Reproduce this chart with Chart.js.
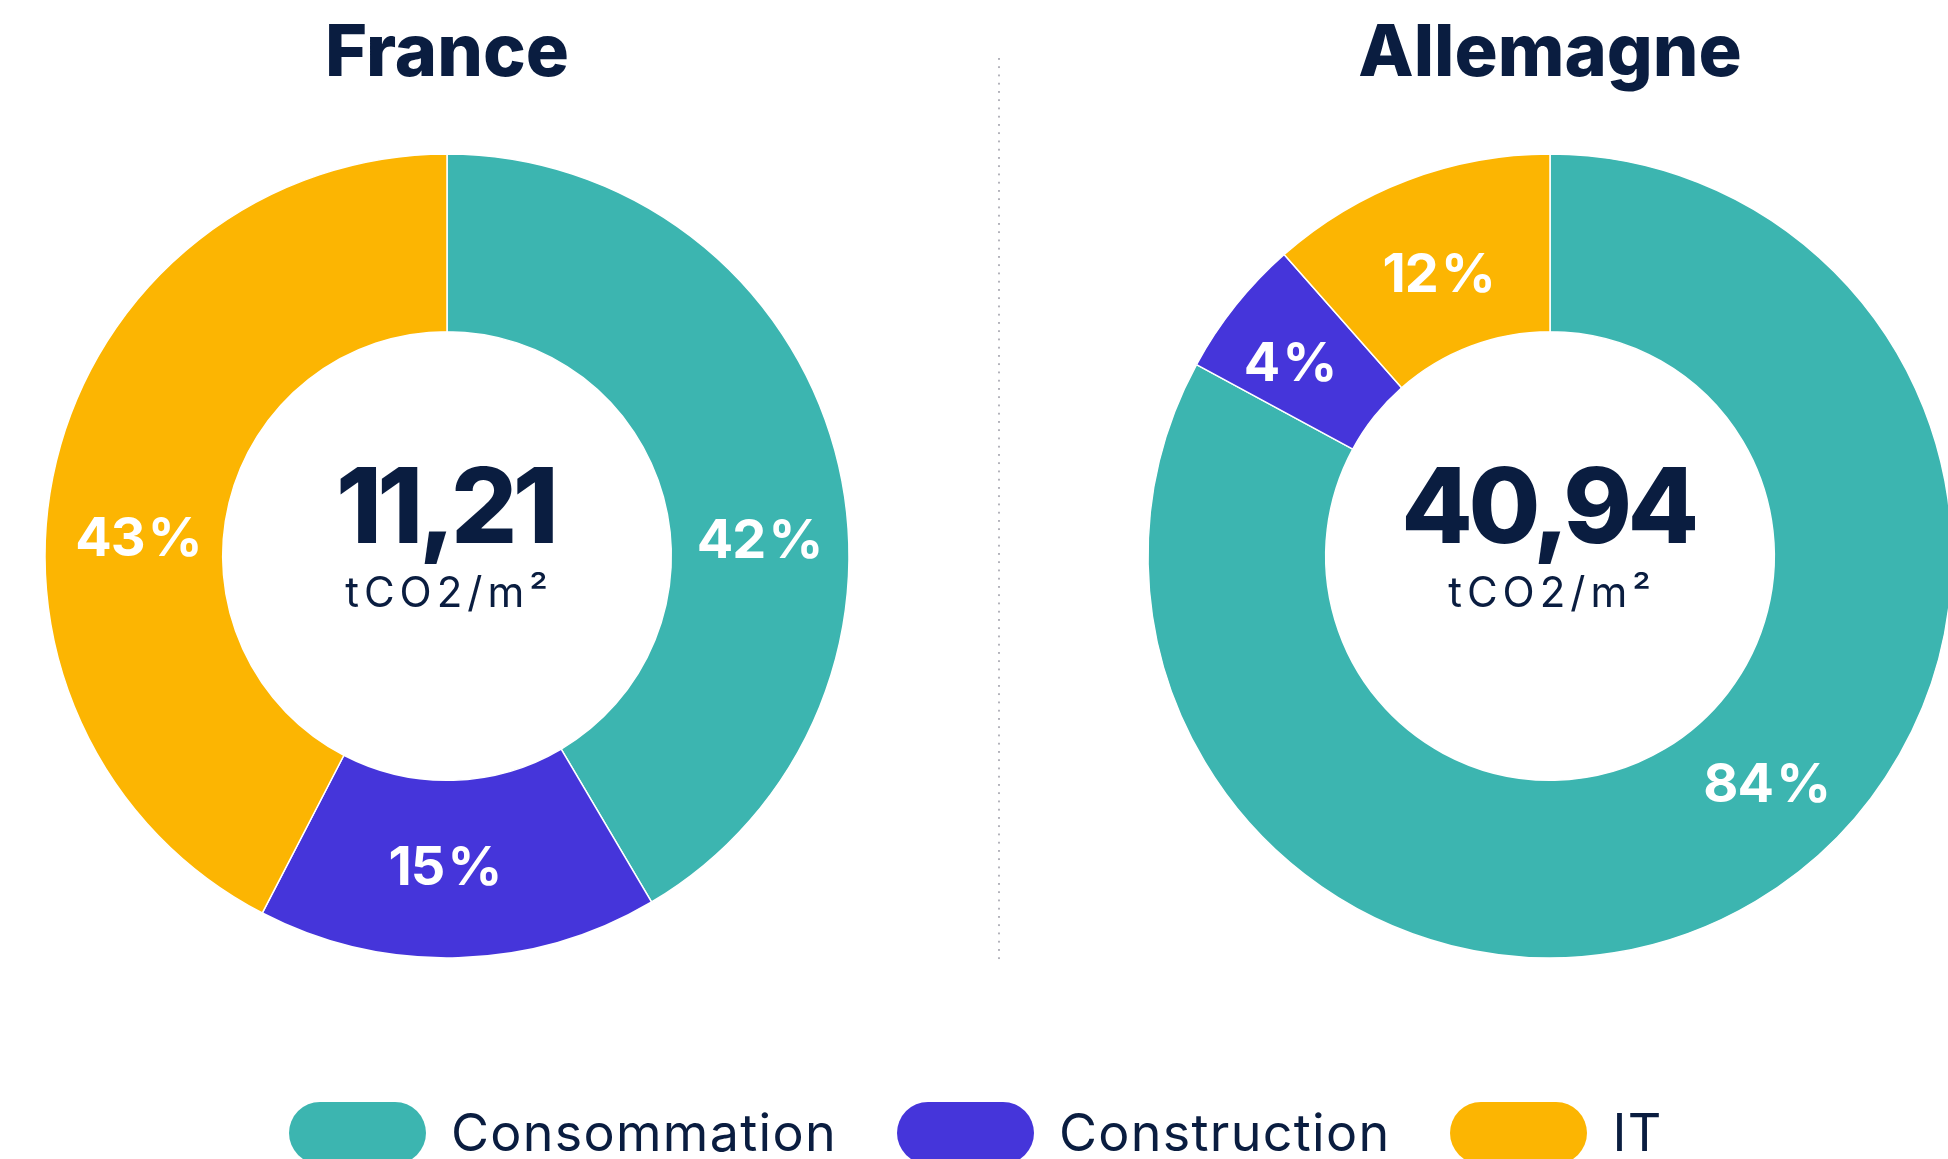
<!DOCTYPE html>
<html lang="fr">
<head>
<meta charset="utf-8">
<title>Empreinte carbone - France / Allemagne</title>
<script src="https://cdn.jsdelivr.net/npm/chart.js@4.4.1/dist/chart.umd.min.js"></script>
<style>
  html, body { margin: 0; padding: 0; width: 1948px; height: 1159px; overflow: hidden; background: #fff; font-family: Inter, "Noto Sans", sans-serif; color: #0a1d40; }
  .title { position: absolute; top: 14px; width: 600px; margin-left: -300px; text-align: center; font-size: 72px; font-weight: 800; line-height: 72px; }
  canvas { position: absolute; top: 136px; }
  #divider { position: absolute; left: 998px; top: 58px; width: 2px; height: 903px; background-image: linear-gradient(to bottom, #b3b3bb 2px, transparent 2px); background-size: 2px 8.25px; }
  #legend { position: absolute; top: 1102px; left: 289px; height: 62px; display: flex; align-items: center; }
  .item { display: flex; align-items: center; margin-right: 60px; }
  .pill { width: 137px; height: 62px; border-radius: 31px; margin-right: 25px; }
  .item span { font-size: 52px; line-height: 62px; letter-spacing: 1.3px; }
</style>
</head>
<body>
<div class="title" style="left:447px">France</div>
<div class="title" style="left:1550px">Allemagne</div>
<div id="divider"></div>
<canvas id="france" width="840" height="840" style="left:27px"></canvas>
<canvas id="allemagne" width="840" height="840" style="left:1130px"></canvas>
<div id="legend"></div>

<script>
// data
const categories = ['Consommation', 'Construction', 'IT'];
const colors = ['#3cb5b0', '#4535da', '#fcb502'];

// shares as drawn in the rings, and the percent printed on them
const franceShares = [41.5, 16.1, 42.4];
const allemagneShares = [82.9, 5.6, 11.5];
const francePct = [42, 15, 43];
const allemagnePct = [84, 4, 12];

const franceTotal = 11.21;
const allemagneTotal = 40.94;
const unit = 'tCO2/m²';

// label nudges so they sit like the original: angle (deg, clockwise) and radius (px)
const franceNudge = [12, 2, -10];
const allemagneNudge = [-13, -1.6, -0.7];
const franceShift = [0, -4, -4];
const allemagneShift = [0, 12, -8];

const donutText = {
    id: 'donutText',
    afterDatasetsDraw(chart, args, opts) {
        const ctx = chart.ctx;
        const arcs = chart.getDatasetMeta(0).data;
        ctx.save();
        ctx.textAlign = 'center';
        ctx.textBaseline = 'alphabetic';

        // percent labels inside the ring
        ctx.fillStyle = '#fff';
        ctx.font = '700 54px Inter';
        ctx.letterSpacing = '-1px';
        arcs.forEach((arc, i) => {
            const p = arc.getProps(['x', 'y', 'startAngle', 'endAngle', 'innerRadius', 'outerRadius']);
            const a = (p.startAngle + p.endAngle) / 2 + opts.nudge[i] * Math.PI / 180;
            const r = (p.innerRadius + p.outerRadius) / 2 + opts.shift[i];
            ctx.fillText(opts.pct[i] + '\u200a%', p.x + Math.cos(a) * r, p.y + Math.sin(a) * r + 20);
        });

        // total in the hole
        const c = arcs[0];
        ctx.fillStyle = '#0a1d40';
        ctx.font = '800 104px Inter';
        ctx.letterSpacing = '-4.5px';
        ctx.fillText(opts.total.toFixed(2).replace('.', ','), c.x - 2, c.y - 13);
        ctx.font = '400 42px Inter';
        ctx.letterSpacing = '5px';
        ctx.fillText(unit, c.x + 2, c.y + 51);
        ctx.restore();
    }
};

function makeDonut(id, shares, pct, total, nudge, shift) {
    return new Chart(document.getElementById(id), {
        type: 'doughnut',
        data: {
            labels: categories,
            datasets: [{
                data: shares,
                backgroundColor: colors,
                borderColor: '#fff',
                borderWidth: 1.5,
                hoverOffset: 0,
                radius: 402,
                cutout: '55.8%'
            }]
        },
        options: {
            responsive: false,
            animation: false,
            events: [],
            layout: { padding: 0 },
            plugins: {
                legend: { display: false },
                tooltip: { enabled: false },
                donutText: { pct: pct, total: total, nudge: nudge, shift: shift }
            }
        },
        plugins: [donutText]
    });
}

function buildLegend() {
    const box = document.getElementById('legend');
    categories.forEach((name, i) => {
        box.innerHTML += `
            <div class="item">
                <div class="pill" style="background:${colors[i]}"></div>
                <span>${name}</span>
            </div>`;
    });
}

buildLegend();
Promise.all([
    document.fonts.load('800 104px Inter'),
    document.fonts.load('700 54px Inter'),
    document.fonts.load('400 42px Inter')
]).catch(() => {}).then(() => {
    makeDonut('france', franceShares, francePct, franceTotal, franceNudge, franceShift);
    makeDonut('allemagne', allemagneShares, allemagnePct, allemagneTotal, allemagneNudge, allemagneShift);
});
</script>
</body>
</html>
